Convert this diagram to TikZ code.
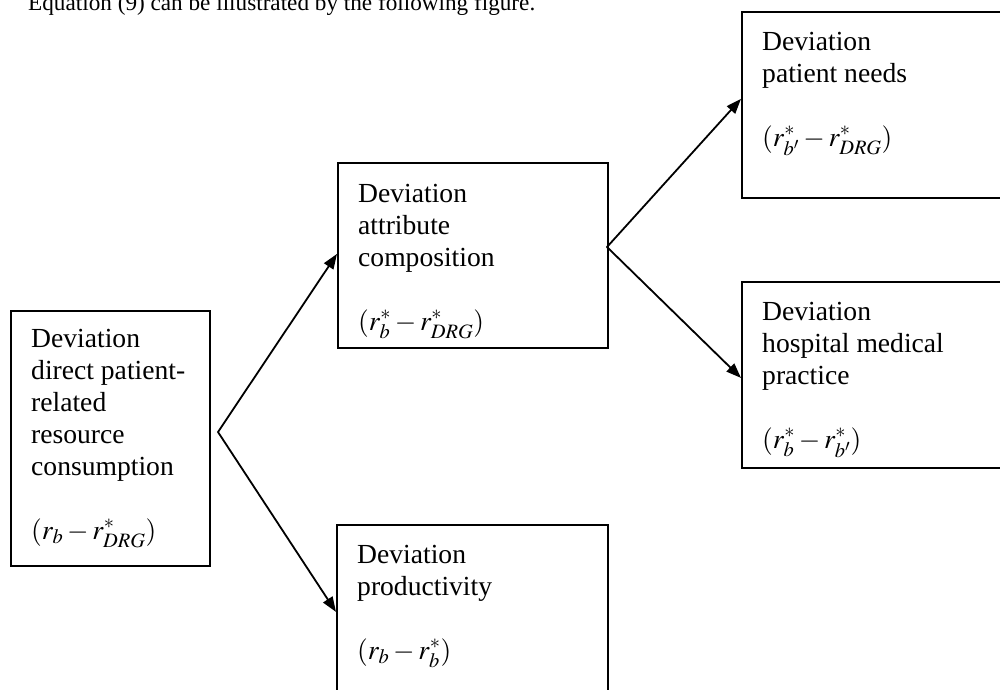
\documentclass[tikz,border=0pt]{standalone}
\usepackage{mathptmx}
\usepackage{fontspec}
\setmainfont{Liberation Serif}
\usetikzlibrary{arrows.meta,calc}
\begin{document}
\begin{tikzpicture}[x=1pt,y=-1pt,
  box/.style={draw,line width=1.8pt,inner sep=0pt,anchor=north west},
  boxtext/.style={anchor=base west,inner sep=0pt,font=\fontsize{27.6}{32}\selectfont},
  link/.style={line width=1.8pt,line cap=round,-{Triangle[length=15pt,width=11pt]}}]
\useasboundingbox (0,0) rectangle (1000,689);

% caption line above the figure
\node[anchor=base west,inner sep=0pt,font=\fontsize{23.2}{28}\selectfont] (cap) at (28,10)
  {Equation (9) can be illustrated by the following figure.};

% boxes
\node[box,minimum width=199pt,minimum height=255pt] (L)  at (10,310)  {};
\node[box,minimum width=270pt,minimum height=185pt] (M)  at (337,162) {};
\node[box,minimum width=272pt,minimum height=186pt] (UR) at (741,11)  {};
\node[box,minimum width=272pt,minimum height=186pt] (H)  at (741,281) {};
\node[box,minimum width=271pt,minimum height=190pt] (P)  at (336,524) {};

% box texts
\node[boxtext] (Lt) at (31,347) {\parbox[t]{300pt}{\raggedright
  Deviation\\direct patient-\\related\\resource\\consumption\\[32pt]$(r_b - r^{*}_{DRG})$}};
\node[boxtext] (Mt) at (358,202) {\parbox[t]{300pt}{\raggedright
  Deviation\\attribute\\composition\\[32pt]$(r^{*}_b - r^{*}_{DRG})$}};
\node[boxtext] (URt) at (762,50) {\parbox[t]{300pt}{\raggedright
  Deviation\\patient needs\\[32pt]$(r^{*}_{b'} - r^{*}_{DRG})$}};
\node[boxtext] (Ht) at (762,320) {\parbox[t]{300pt}{\raggedright
  Deviation\\hospital medical\\practice\\[32pt]$(r^{*}_b - r^{*}_{b'})$}};
\node[boxtext] (Pt) at (357,563) {\parbox[t]{300pt}{\raggedright
  Deviation\\productivity\\[32pt]$(r_b - r^{*}_b)$}};

% fork points
\coordinate (F1) at (218,432);
\coordinate (F2) at (607,247);

% connectors
\draw[link] (F1) -- ([yshift=1.5pt]M.west);
\draw[link] (F1) -- ([yshift=8pt]P.west);
\draw[link] (F2) -- ([yshift=6pt]UR.west);
\draw[link] (F2) -- ([yshift=-3pt]H.west);
\end{tikzpicture}
\end{document}
